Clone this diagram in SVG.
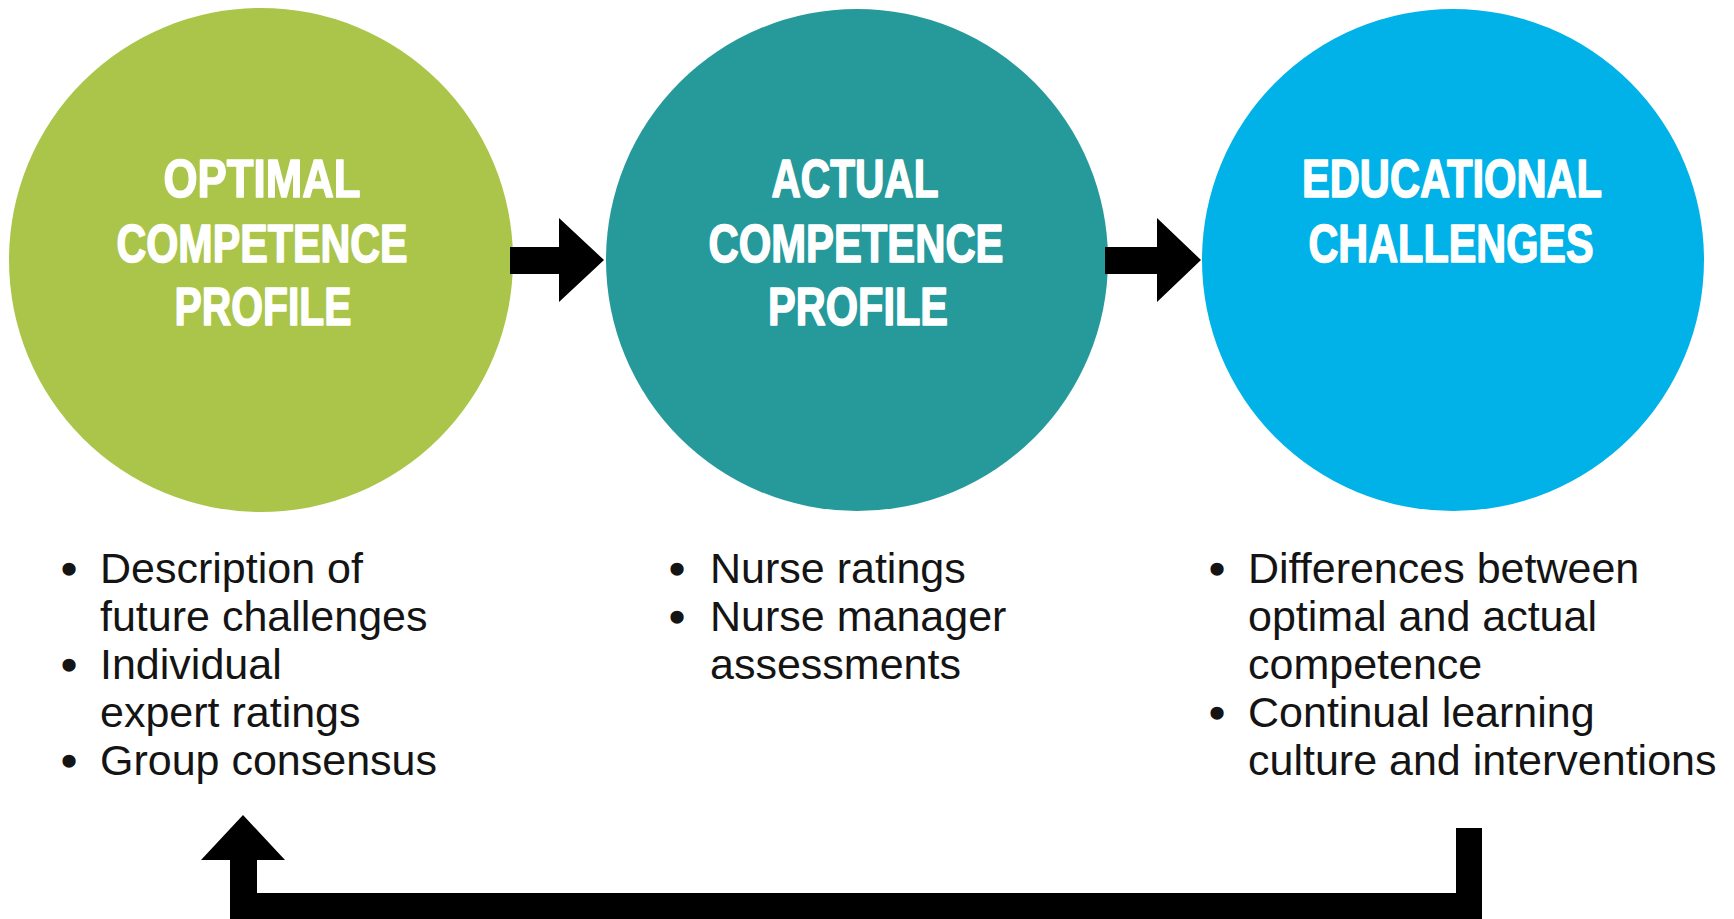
<svg xmlns="http://www.w3.org/2000/svg" width="1734" height="919" viewBox="0 0 1734 919">
  <style>
    .title { font-family: "Liberation Sans", Arial, sans-serif; font-weight: bold; font-size: 53px; fill: #ffffff; stroke: #ffffff; stroke-width: 1.6px; stroke-linejoin: round; text-anchor: middle; }
    .body { font-family: "Liberation Sans", Arial, sans-serif; font-size: 43px; fill: #141414; }
    .bullet { font-family: "Liberation Sans", Arial, sans-serif; font-size: 43px; fill: #141414; stroke: #141414; stroke-width: 1.5px; text-anchor: middle; }
    .conn { fill: #000000; }
  </style>
  <rect width="1734" height="919" fill="#ffffff"/>

  <g id="optimal">
    <circle cx="261" cy="260" r="252" fill="#aac549"/>
    <text class="title" x="262" y="197" textLength="197" lengthAdjust="spacingAndGlyphs">OPTIMAL</text>
    <text class="title" x="262" y="262" textLength="291" lengthAdjust="spacingAndGlyphs">COMPETENCE</text>
    <text class="title" x="263" y="325" textLength="177" lengthAdjust="spacingAndGlyphs">PROFILE</text>
  </g>

  <g id="actual">
    <circle cx="857" cy="260" r="251" fill="#26999b"/>
    <text class="title" x="855" y="197" textLength="167" lengthAdjust="spacingAndGlyphs">ACTUAL</text>
    <text class="title" x="856" y="262" textLength="295" lengthAdjust="spacingAndGlyphs">COMPETENCE</text>
    <text class="title" x="858" y="325" textLength="180" lengthAdjust="spacingAndGlyphs">PROFILE</text>
  </g>

  <g id="educational">
    <circle cx="1453" cy="260" r="251" fill="#00b2e8"/>
    <text class="title" x="1452" y="197" textLength="300" lengthAdjust="spacingAndGlyphs">EDUCATIONAL</text>
    <text class="title" x="1451" y="262" textLength="285" lengthAdjust="spacingAndGlyphs">CHALLENGES</text>
  </g>

  <g id="optimal-notes">
    <text class="bullet" x="69" y="583">•</text>
    <text class="body" x="100" y="583">Description of</text>
    <text class="body" x="100" y="631">future challenges</text>
    <text class="bullet" x="69" y="679">•</text>
    <text class="body" x="100" y="679">Individual</text>
    <text class="body" x="100" y="727">expert ratings</text>
    <text class="bullet" x="69" y="775">•</text>
    <text class="body" x="100" y="775">Group consensus</text>
  </g>

  <g id="actual-notes">
    <text class="bullet" x="677" y="583">•</text>
    <text class="body" x="710" y="583">Nurse ratings</text>
    <text class="bullet" x="677" y="631">•</text>
    <text class="body" x="710" y="631">Nurse manager</text>
    <text class="body" x="710" y="679">assessments</text>
  </g>

  <g id="educational-notes">
    <text class="bullet" x="1217" y="583">•</text>
    <text class="body" x="1248" y="583">Differences between</text>
    <text class="body" x="1248" y="631">optimal and actual</text>
    <text class="body" x="1248" y="679">competence</text>
    <text class="bullet" x="1217" y="727">•</text>
    <text class="body" x="1248" y="727">Continual learning</text>
    <text class="body" x="1248" y="775">culture and interventions</text>
  </g>

  <g id="connectors">
    <polygon class="conn" points="510,247 559,247 559,218 604,260 559,302 559,274 510,274"/>
    <polygon class="conn" points="1105,247 1157,247 1157,218 1201,260 1157,302 1157,274 1105,274"/>
    <polygon class="conn" points="1456,828 1482,828 1482,919 230,919 230,860 201,860 243,815 285,860 257,860 257,893 1456,893"/>
  </g>
</svg>
